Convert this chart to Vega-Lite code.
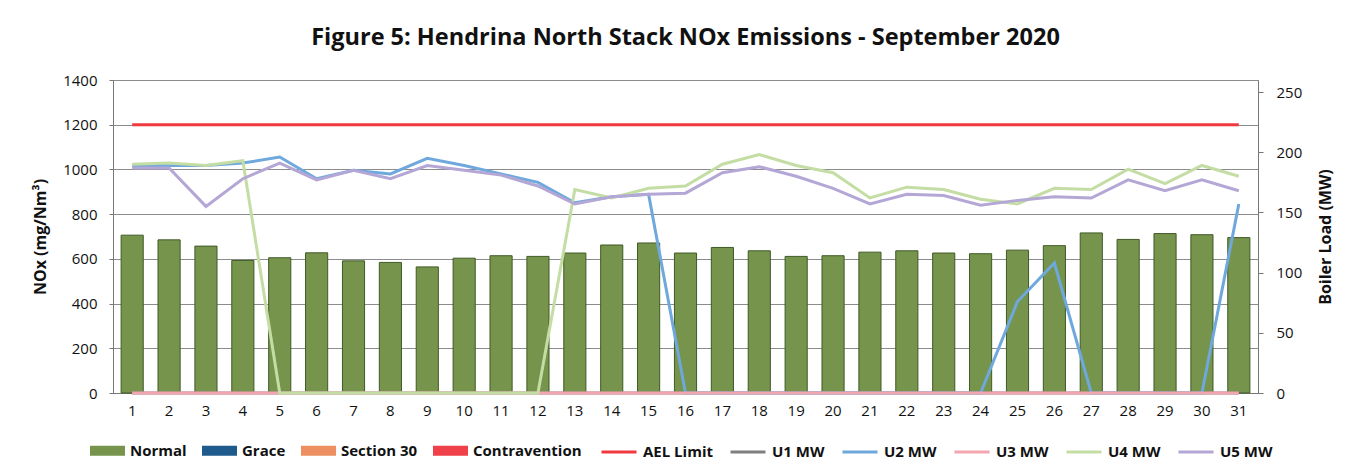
{
  "$schema": "https://vega.github.io/schema/vega-lite/v6.json",
  "width": 1145,
  "height": 313,
  "autosize": {"type": "none"},
  "padding": {"left": 113, "top": 80, "right": 90, "bottom": 81},
  "background": "white",
  "title": {
    "text": "Figure 5: Hendrina North Stack NOx Emissions -  September 2020",
    "font": "Open Sans",
    "fontSize": 23.5,
    "fontWeight": "bold",
    "color": "#111",
    "anchor": "middle",
    "baseline": "alphabetic",
    "offset": 5
  },
  "config": {
    "font": "Open Sans",
    "view": {"stroke": "#8c8c8c", "strokeWidth": 1},
    "axis": {"labelFont": "Open Sans", "titleFont": "Open Sans", "labelColor": "#111", "titleColor": "#111", "domainColor": "#777", "tickColor": "#777"}
  },
  "data": {
    "values": [
      {"day": 1, "nox": 706, "ael": 1200, "u1": 0, "u2": 189, "u3": 0, "u4": 190, "u5": 187},
      {"day": 2, "nox": 685, "ael": 1200, "u1": 0, "u2": 189, "u3": 0, "u4": 191, "u5": 187},
      {"day": 3, "nox": 657, "ael": 1200, "u1": 0, "u2": 189, "u3": 0, "u4": 189, "u5": 155},
      {"day": 4, "nox": 593, "ael": 1200, "u1": 0, "u2": 191, "u3": 0, "u4": 193, "u5": 178},
      {"day": 5, "nox": 605, "ael": 1200, "u1": 0, "u2": 196, "u3": 0, "u4": 0, "u5": 191},
      {"day": 6, "nox": 627, "ael": 1200, "u1": 0, "u2": 178, "u3": 0, "u4": 0, "u5": 177},
      {"day": 7, "nox": 591, "ael": 1200, "u1": 0, "u2": 185, "u3": 0, "u4": 0, "u5": 185},
      {"day": 8, "nox": 584, "ael": 1200, "u1": 0, "u2": 182, "u3": 0, "u4": 0, "u5": 178},
      {"day": 9, "nox": 564, "ael": 1200, "u1": 0, "u2": 195, "u3": 0, "u4": 0, "u5": 189},
      {"day": 10, "nox": 603, "ael": 1200, "u1": 0, "u2": 189, "u3": 0, "u4": 0, "u5": 185},
      {"day": 11, "nox": 614, "ael": 1200, "u1": 0, "u2": 182, "u3": 0, "u4": 0, "u5": 181},
      {"day": 12, "nox": 611, "ael": 1200, "u1": 0, "u2": 175, "u3": 0, "u4": 0, "u5": 172},
      {"day": 13, "nox": 626, "ael": 1200, "u1": 0, "u2": 158, "u3": 0, "u4": 169, "u5": 157},
      {"day": 14, "nox": 662, "ael": 1200, "u1": 0, "u2": 163, "u3": 0, "u4": 162, "u5": 163},
      {"day": 15, "nox": 671, "ael": 1200, "u1": 0, "u2": 165, "u3": 0, "u4": 170, "u5": 165},
      {"day": 16, "nox": 626, "ael": 1200, "u1": 0, "u2": 0, "u3": 0, "u4": 172, "u5": 166},
      {"day": 17, "nox": 651, "ael": 1200, "u1": 0, "u2": 0, "u3": 0, "u4": 190, "u5": 183},
      {"day": 18, "nox": 636, "ael": 1200, "u1": 0, "u2": 0, "u3": 0, "u4": 198, "u5": 188},
      {"day": 19, "nox": 611, "ael": 1200, "u1": 0, "u2": 0, "u3": 0, "u4": 189, "u5": 180},
      {"day": 20, "nox": 614, "ael": 1200, "u1": 0, "u2": 0, "u3": 0, "u4": 183, "u5": 170},
      {"day": 21, "nox": 630, "ael": 1200, "u1": 0, "u2": 0, "u3": 0, "u4": 162, "u5": 157},
      {"day": 22, "nox": 636, "ael": 1200, "u1": 0, "u2": 0, "u3": 0, "u4": 171, "u5": 165},
      {"day": 23, "nox": 626, "ael": 1200, "u1": 0, "u2": 0, "u3": 0, "u4": 169, "u5": 164},
      {"day": 24, "nox": 623, "ael": 1200, "u1": 0, "u2": 0, "u3": 0, "u4": 161, "u5": 156},
      {"day": 25, "nox": 639, "ael": 1200, "u1": 0, "u2": 76, "u3": 0, "u4": 157, "u5": 160},
      {"day": 26, "nox": 659, "ael": 1200, "u1": 0, "u2": 108, "u3": 0, "u4": 170, "u5": 163},
      {"day": 27, "nox": 716, "ael": 1200, "u1": 0, "u2": 0, "u3": 0, "u4": 169, "u5": 162},
      {"day": 28, "nox": 687, "ael": 1200, "u1": 0, "u2": 0, "u3": 0, "u4": 186, "u5": 177},
      {"day": 29, "nox": 713, "ael": 1200, "u1": 0, "u2": 0, "u3": 0, "u4": 174, "u5": 168},
      {"day": 30, "nox": 708, "ael": 1200, "u1": 0, "u2": 0, "u3": 0, "u4": 189, "u5": 177},
      {"day": 31, "nox": 695, "ael": 1200, "u1": 0, "u2": 157, "u3": 0, "u4": 180, "u5": 168}
    ]
  },
  "encoding": {
    "x": {
      "field": "day",
      "type": "ordinal",
      "scale": {"paddingInner": 0.4, "paddingOuter": 0.22},
      "axis": {"title": null, "labelAngle": 0, "ticks": false, "labelFontSize": 15, "labelPadding": 10, "domainColor": "#777"}
    }
  },
  "layer": [
    {
      "layer": [
        {
          "mark": {"type": "bar", "stroke": "#3f5a26", "strokeWidth": 1},
          "encoding": {
            "y": {
              "field": "nox",
              "type": "quantitative",
              "scale": {"domain": [0, 1400]},
              "axis": {"title": "NOx (mg/Nm³)", "format": "d", "values": [0, 200, 400, 600, 800, 1000, 1200, 1400], "grid": true, "gridColor": "#8c8c8c", "tickSize": 4, "labelPadding": 12, "labelFontSize": 15, "titleFontSize": 16, "titleFontWeight": "bold", "titlePadding": 14}
            },
            "fill": {
              "datum": "Normal",
              "scale": {
                "domain": ["Normal", "Grace", "Section 30", "Contravention"],
                "range": ["#76944c", "#1f5a8c", "#ee8f62", "#f0414b"]
              },
              "legend": {
                "title": null,
                "orient": "none",
                "legendX": -23,
                "legendY": 353,
                "direction": "horizontal",
                "labelFont": "Open Sans",
                "labelFontSize": 15,
                "labelFontWeight": "bold",
                "labelColor": "#111",
                "labelOffset": 5,
                "columnPadding": 15,
                "symbolType": "M-1,-0.29H1V0.29H-1Z",
                "symbolSize": 1225,
                "symbolStrokeWidth": 0,
                "symbolOpacity": 1
              }
            }
          }
        },
        {
          "mark": {"type": "line", "strokeWidth": 3},
          "encoding": {
            "y": {"field": "ael", "type": "quantitative"},
            "stroke": {
              "datum": "AEL Limit",
              "scale": {
                "domain": ["AEL Limit", "U1 MW", "U2 MW", "U3 MW", "U4 MW", "U5 MW"],
                "range": ["#f0383f", "#7f7f7f", "#6fa8dc", "#f4a6b0", "#c4dda5", "#b4a7d6"]
              },
              "legend": {
                "title": null,
                "orient": "none",
                "legendX": 487,
                "legendY": 353,
                "direction": "horizontal",
                "labelFont": "Open Sans",
                "labelFontSize": 15,
                "labelFontWeight": "bold",
                "labelColor": "#111",
                "labelOffset": 5,
                "columnPadding": 11,
                "symbolType": "stroke",
                "symbolSize": 1225,
                "symbolStrokeWidth": 3,
                "symbolOpacity": 1
              }
            }
          }
        }
      ]
    },
    {
      "layer": [
        {
          "mark": {"type": "line", "strokeWidth": 3},
          "encoding": {
            "y": {
              "field": "u1",
              "type": "quantitative",
              "scale": {"domain": [0, 250]},
              "axis": {"orient": "right", "title": "Boiler Load (MW)", "titleAngle": 270, "titleBaseline": "top", "values": [0, 50, 100, 150, 200, 250], "grid": false, "tickSize": 5, "labelPadding": 13, "labelFontSize": 15, "titleFontSize": 16, "titleFontWeight": "bold", "titlePadding": 16}
            },
            "stroke": {"datum": "U1 MW"}
          }
        },
        {
          "mark": {"type": "line", "strokeWidth": 3},
          "encoding": {"y": {"field": "u2", "type": "quantitative"}, "stroke": {"datum": "U2 MW"}}
        },
        {
          "mark": {"type": "line", "strokeWidth": 3},
          "encoding": {"y": {"field": "u3", "type": "quantitative"}, "stroke": {"datum": "U3 MW"}}
        },
        {
          "mark": {"type": "line", "strokeWidth": 3},
          "encoding": {"y": {"field": "u4", "type": "quantitative"}, "stroke": {"datum": "U4 MW"}}
        },
        {
          "mark": {"type": "line", "strokeWidth": 3},
          "encoding": {"y": {"field": "u5", "type": "quantitative"}, "stroke": {"datum": "U5 MW"}}
        }
      ]
    }
  ],
  "resolve": {"scale": {"y": "independent"}}
}
